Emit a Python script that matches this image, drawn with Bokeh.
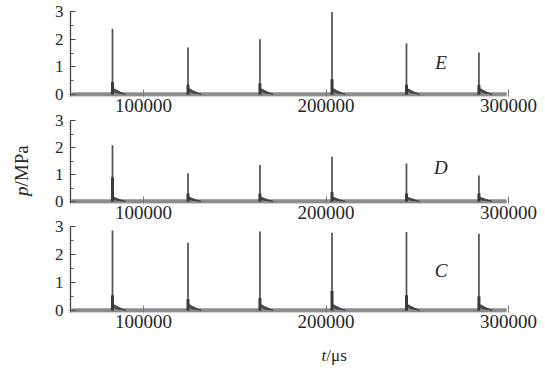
import numpy as np
from bokeh.plotting import figure
from bokeh.layouts import column, row
from bokeh.models import Range1d, Label, FixedTicker, BasicTickFormatter
from bokeh.embed import file_html
from bokeh.resources import INLINE

# pressure pulse arrival times (µs), shared by the three gauges
pulse_t = [83000, 124400, 163800, 203300, 244100, 283800]

# peak pressures (MPa) at gauges E, D, C
peak_E = [2.38, 1.70, 2.00, 2.98, 1.85, 1.52]
peak_D = [2.08, 1.05, 1.35, 1.66, 1.41, 0.97]
peak_C = [2.86, 2.42, 2.82, 2.78, 2.80, 2.74]

# height of the broad lower part of each pulse (MPa)
knee_E = [0.45, 0.35, 0.40, 0.55, 0.35, 0.35]
knee_D = [0.90, 0.30, 0.30, 0.35, 0.30, 0.30]
knee_C = [0.55, 0.40, 0.45, 0.70, 0.55, 0.50]

# decaying tail after each pulse: time offset (µs) and pressure (MPa)
tail_dt = [0, 250, 600, 1200, 2200, 4000, 7000, 7000]
tail_p = [0.26, 0.18, 0.13, 0.10, 0.07, 0.05, 0.03, 0.0]

# record start/end (µs)
record_t = [60500, 299000]

x_ticks = [100000, 200000, 300000]
y_ticks = [0, 1, 2, 3]
y_minor = [0.5, 1.5, 2.5]

SERIF = "Liberation Serif"
INK = "#262626"
TRACE = "#4f4f4f"
LEFT = 45      # width of the strip holding the pressure title
PANEL_W = 545 - LEFT


def panel(tag, peaks, knees, height, top, bottom, tag_y, tail_k):
    p = figure(width=PANEL_W, height=height, output_backend="svg",
               toolbar_location=None, x_range=Range1d(60000, 300000),
               y_range=Range1d(-0.07, 3.0),
               min_border_left=70 - LEFT, min_border_right=37,
               min_border_top=top, min_border_bottom=bottom)
    p.background_fill_color = None
    p.border_fill_color = None
    p.outline_line_color = None
    p.grid.visible = False

    # baseline of the record
    p.line(record_t, [0, 0], line_width=4.5, color="#8c8c8c")

    # tails
    xs, ys = [], []
    for t in pulse_t:
        xs.append([t + d for d in tail_dt])
        ys.append([v * tail_k for v in tail_p[:-1]] + [0.0])
    p.patches(xs, ys, fill_color="#3a3a3a", line_color="#3a3a3a",
              line_width=0.8, fill_alpha=0.9)

    # pulses
    p.segment(x0=pulse_t, y0=[0] * len(pulse_t), x1=pulse_t, y1=peaks,
              line_width=1.7, color=TRACE)
    p.segment(x0=pulse_t, y0=[0] * len(pulse_t), x1=pulse_t, y1=knees,
              line_width=3.0, color="#3a3a3a")

    # axes
    xa = p.xaxis[0]
    xa.ticker = FixedTicker(ticks=x_ticks)
    xa.formatter = BasicTickFormatter(use_scientific=False)
    xa.axis_line_color = None
    xa.major_tick_in = 7
    xa.major_tick_out = 0
    xa.minor_tick_line_color = None
    xa.major_tick_line_color = "#777777"
    xa.major_label_standoff = 2
    xa.major_label_text_font = SERIF
    xa.major_label_text_font_size = "19px"
    xa.major_label_text_color = INK

    ya = p.yaxis[0]
    ya.ticker = FixedTicker(ticks=y_ticks, minor_ticks=y_minor)
    ya.axis_line_color = "#444444"
    ya.axis_line_width = 1.3
    ya.major_tick_in = 5
    ya.major_tick_out = 0
    ya.minor_tick_in = 3
    ya.minor_tick_out = 0
    ya.major_tick_line_color = "#444444"
    ya.minor_tick_line_color = "#555555"
    ya.major_label_standoff = 7
    ya.major_label_text_font = SERIF
    ya.major_label_text_font_size = "17px"
    ya.major_label_text_color = INK

    p.add_layout(Label(x=263000, y=tag_y, text=tag, text_font=SERIF,
                       text_font_style="italic", text_font_size="19px",
                       text_color=INK, text_align="center",
                       text_baseline="middle"))
    return p


def strip(width, height):
    s = figure(width=width, height=height, output_backend="svg",
               toolbar_location=None, x_axis_type=None, y_axis_type=None,
               x_range=Range1d(0, width), y_range=Range1d(0, height),
               min_border=0)
    s.background_fill_color = None
    s.border_fill_color = None
    s.outline_line_color = None
    s.grid.visible = False
    return s


pE = panel("E", peak_E, knee_E, 122, 11, 26, 1.16, 0.9)
pD = panel("D", peak_D, knee_D, 117, 8, 26, 1.26, 0.7)
pC = panel("C", peak_C, knee_C, 120, 8, 26, 1.43, 0.9)
pD.margin = (-10, 0, 0, 0)
pC.margin = (-11, 0, 0, 0)

# time-axis title under the bottom panel
bottom = strip(PANEL_W, 34)
for txt, style, align in (("t", "italic", "right"), ("/μs", "normal", "left")):
    bottom.add_layout(Label(x=292, y=17, text=txt, text_font=SERIF,
                            text_font_style=style, text_font_size="17px",
                            text_color=INK, text_align=align,
                            text_baseline="middle"))

# pressure title, read bottom to top
left = strip(LEFT, 372)
for txt, style, align in (("p", "italic", "right"), ("/MPa", "normal", "left")):
    left.add_layout(Label(x=21, y=186, text=txt, angle=np.pi / 2,
                          text_font=SERIF, text_font_style=style,
                          text_font_size="19px", text_color=INK,
                          text_align=align, text_baseline="middle"))

layout = row(left, column(pE, pD, pC, bottom, spacing=0), spacing=0)
open("out.html", "w").write(file_html(layout, INLINE))
